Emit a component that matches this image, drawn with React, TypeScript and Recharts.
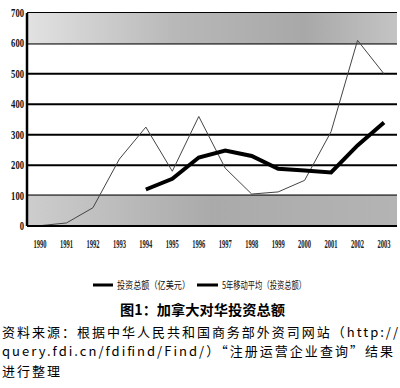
import React from "react";
import { LineChart, Line, XAxis, YAxis, CartesianGrid, ReferenceArea } from "recharts";

const years = ["1990","1991","1992","1993","1994","1995","1996","1997","1998","1999","2000","2001","2002","2003"];
const totalInvest = [1, 10, 60, 220, 325, 180, 360, 190, 105, 112, 150, 310, 610, 500];
const movingAvg: (number | null)[] = [null, null, null, null, 120, 155, 225, 248, 230, 188, 182, 176, 265, 340];
const yTicks = [0, 100, 200, 300, 400, 500, 600, 700];

const seriesNames = ["投资总额（亿美元）", "5年移动平均（投资总额）"];
const titleText = "图1：加拿大对华投资总额";
const sourceLines = [
  "资料来源：根据中华人民共和国商务部外资司网站（http://",
  "query.fdi.cn/fdifind/Find/）“注册运营企业查询”结果",
  "进行整理",
];

const data = years.map((y, i) => ({ year: y, total: totalInvest[i], avg: movingAvg[i] }));

const PAD = 13;
const serif = "'Liberation Serif', 'DejaVu Serif', serif";
const cjk = "'Noto Sans CJK SC', sans-serif";

const YTick = (props: any) => {
  const { x, y, payload } = props;
  const s = String(payload.value);
  return (
    <text x={x} y={y + 4} textAnchor="end" fontFamily={serif} fontSize={13} fontWeight="bold" fill="#111"
      textLength={s.length * 4.3} lengthAdjust="spacingAndGlyphs">{s}</text>
  );
};

const XTick = (props: any) => {
  const { x, y, payload } = props;
  return (
    <text x={x} y={y + 14} textAnchor="middle" fontFamily={serif} fontSize={12} fontWeight="bold" fill="#222"
      textLength={13} lengthAdjust="spacingAndGlyphs">{payload.value}</text>
  );
};

const bandShape = (fill: string) => (p: any) => (
  <rect x={p.x - PAD} y={p.y} width={p.width + 2 * PAD} height={p.height} fill={fill} />
);

export default function App() {
  return (
    <div style={{ position: "absolute", left: 0, top: 0, width: 400, height: 388, background: "#fff", overflow: "hidden" }}>
      <LineChart width={400} height={260} data={data} margin={{ top: 13, right: 3, left: 0, bottom: 0 }}>
        <defs>
          <linearGradient id="topBand" x1="0" y1="0" x2="1" y2="0">
            <stop offset="0" stopColor="#e2e2e2" />
            <stop offset="0.4" stopColor="#b8b8b8" />
            <stop offset="0.75" stopColor="#a8a8a8" />
            <stop offset="1" stopColor="#c4c4c4" />
          </linearGradient>
          <linearGradient id="botBand" x1="0" y1="0" x2="1" y2="0">
            <stop offset="0" stopColor="#cdcdcd" />
            <stop offset="0.5" stopColor="#aaaaaa" />
            <stop offset="1" stopColor="#b4b4b4" />
          </linearGradient>
        </defs>
        <ReferenceArea y1={600} y2={700} shape={bandShape("url(#topBand)")} ifOverflow="visible" />
        <ReferenceArea y1={0} y2={100} shape={bandShape("url(#botBand)")} ifOverflow="visible" />
        <CartesianGrid vertical={false} stroke="#000" strokeWidth={2} strokeOpacity={1} />
        <XAxis dataKey="year" padding={{ left: PAD, right: PAD }} height={34} axisLine={{ stroke: "#000", strokeWidth: 2 }}
          tickLine={false} tick={<XTick />} interval={0} />
        <YAxis domain={[0, 700]} ticks={yTicks} width={27} axisLine={{ stroke: "#000", strokeWidth: 2.5 }}
          tickLine={false} tickSize={0} tickMargin={3} tick={<YTick />} interval={0} />
        <Line type="linear" dataKey="total" name={seriesNames[0]} stroke="#444" strokeWidth={1} dot={false} isAnimationActive={false} />
        <Line type="linear" dataKey="avg" name={seriesNames[1]} stroke="#000" strokeWidth={4} dot={false} isAnimationActive={false} />
      </LineChart>
      <svg width={400} height={128} style={{ position: "absolute", left: 0, top: 260 }}>
        <line x1={93} y1={25} x2={113} y2={25} stroke="#000" strokeWidth={3} />
        <text x={117} y={29} fontFamily={cjk} fontSize={10} fill="#111" textLength={73} lengthAdjust="spacingAndGlyphs">{seriesNames[0]}</text>
        <line x1={197} y1={25} x2={218} y2={25} stroke="#000" strokeWidth={3} />
        <text x={222} y={29} fontFamily={cjk} fontSize={10} fill="#111" textLength={84} lengthAdjust="spacingAndGlyphs">{seriesNames[1]}</text>
        <text x={120} y={55} fontFamily={cjk} fontSize={14} fontWeight="bold" fill="#000" textLength={165} lengthAdjust="spacingAndGlyphs">{titleText}</text>
        <text x={2} y={77} fontFamily={cjk} fontSize={13} fill="#000" textLength={396} lengthAdjust="spacing">{sourceLines[0]}</text>
        <text x={2} y={96} fontFamily={cjk} fontSize={13} fill="#000" textLength={391} lengthAdjust="spacing">{sourceLines[1]}</text>
        <text x={2} y={116} fontFamily={cjk} fontSize={13} fill="#000" letterSpacing={2}>{sourceLines[2]}</text>
      </svg>
    </div>
  );
}
